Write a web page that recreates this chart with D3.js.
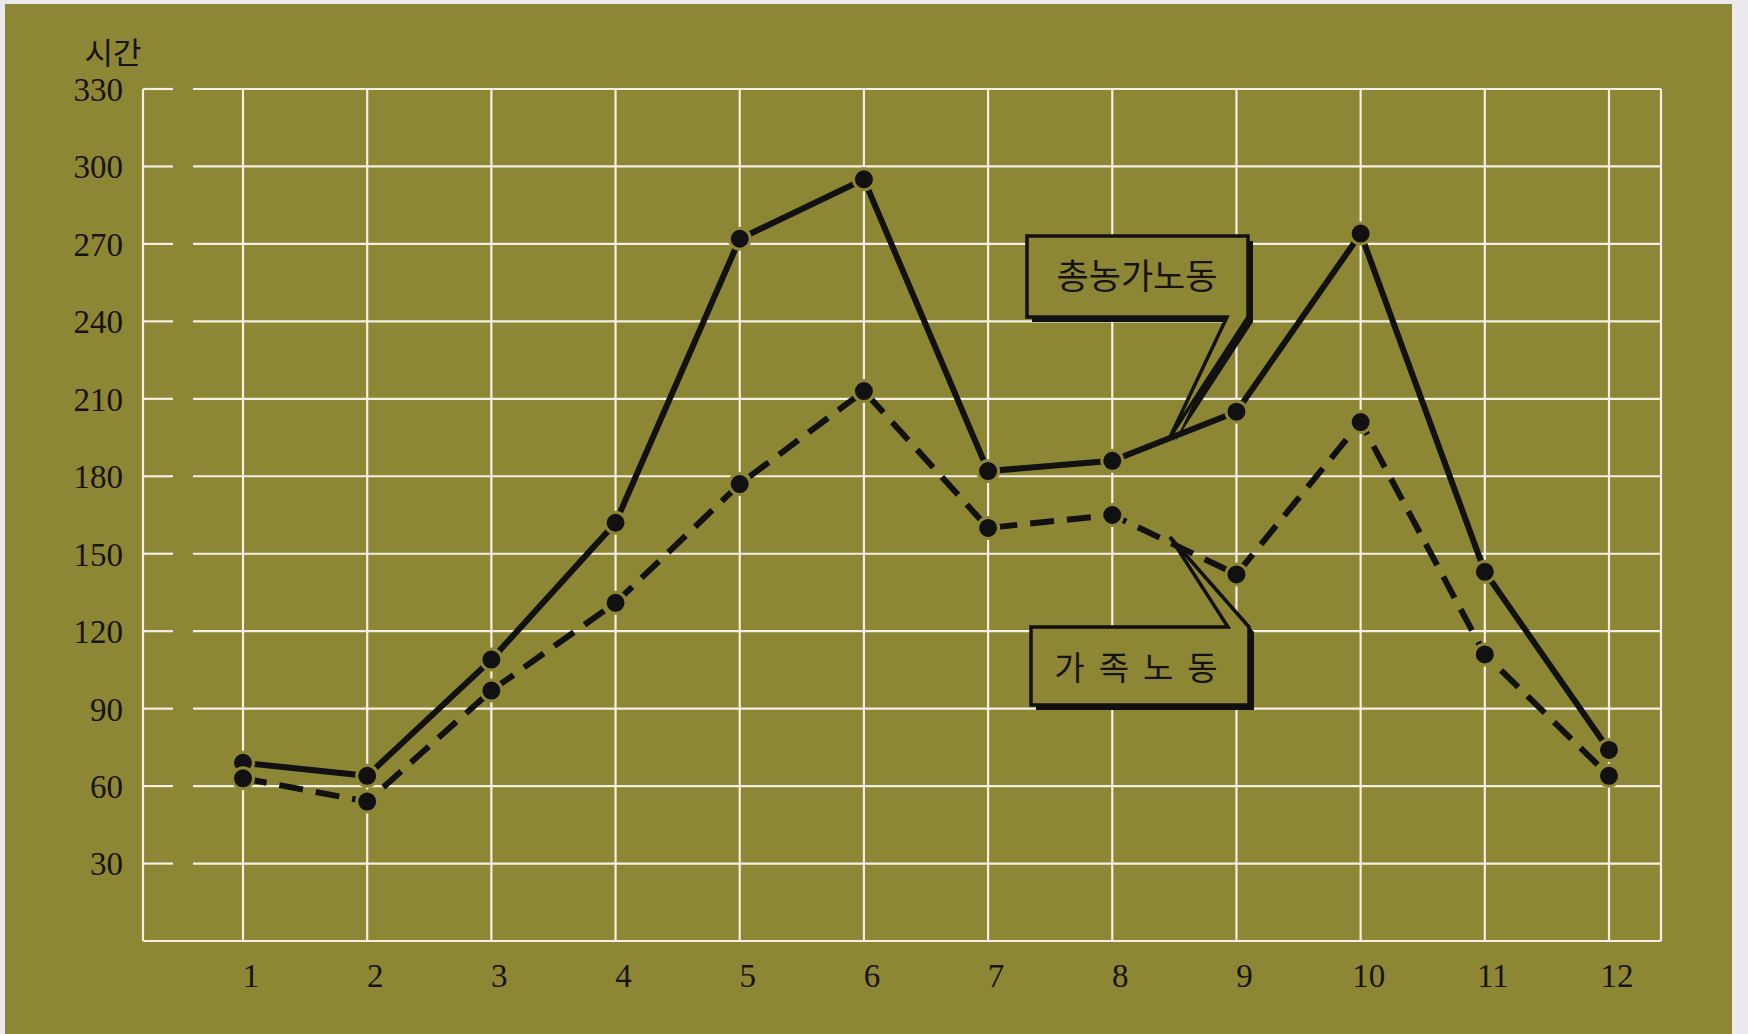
<!DOCTYPE html>
<html><head><meta charset="utf-8">
<script src="https://cdn.jsdelivr.net/npm/d3@7"></script>
<style>
html,body{margin:0;padding:0;background:#ece9ee;}
svg{display:block;}
</style></head>
<body>
<svg id="chart" width="1748" height="1034"></svg>
<script>
// ---- data ----
const months = [1,2,3,4,5,6,7,8,9,10,11,12];
const totalFarmLabor = [69, 64, 109, 162, 272, 295, 182, 186, 205, 274, 143, 74];
const familyLabor    = [63, 54, 97, 131, 177, 213, 160, 165, 142, 201, 111, 64];
const yTicks = [30,60,90,120,150,180,210,240,270,300,330];
const yTitle = "시간";
const seriesNames = ["총농가노동", "가족노동"];

// ---- layout ----
const svg = d3.select("#chart");
const olive = "#8d8634";
const gridCol = "#f3efe2";
const plot = {left:143, right:1661, top:89, bottom:941};

svg.append("rect").attr("x",5).attr("y",4).attr("width",1727).attr("height",1040).attr("fill",olive);

const x = d3.scaleLinear().domain([1,12]).range([243,1609]);
const y = d3.scaleLinear().domain([0,330]).range([plot.bottom, plot.top]);

const g = svg.append("g");
// horizontal gridlines (with small gap near left)
yTicks.forEach(t=>{
  g.append("line").attr("x1",plot.left).attr("x2",173).attr("y1",y(t)).attr("y2",y(t))
   .attr("stroke",gridCol).attr("stroke-width",2.2);
  g.append("line").attr("x1",193).attr("x2",plot.right).attr("y1",y(t)).attr("y2",y(t))
   .attr("stroke",gridCol).attr("stroke-width",2.2);
});
// vertical gridlines
months.forEach(m=>{
  g.append("line").attr("x1",x(m)).attr("x2",x(m)).attr("y1",plot.top).attr("y2",plot.bottom)
   .attr("stroke",gridCol).attr("stroke-width",2.2);
});
// frame
g.append("line").attr("x1",plot.left).attr("x2",plot.left).attr("y1",plot.top).attr("y2",plot.bottom).attr("stroke",gridCol).attr("stroke-width",2.2);
g.append("line").attr("x1",plot.right).attr("x2",plot.right).attr("y1",plot.top).attr("y2",plot.bottom).attr("stroke",gridCol).attr("stroke-width",2.2);
g.append("line").attr("x1",plot.left).attr("x2",plot.right).attr("y1",plot.bottom).attr("y2",plot.bottom).attr("stroke",gridCol).attr("stroke-width",2.2);

// axis labels
const numFont = "'Liberation Serif', 'DejaVu Serif', serif";
svg.append("g").selectAll("text").data(yTicks).join("text")
  .attr("x",123).attr("y",d=>y(d)).attr("dy","0.36em")
  .attr("text-anchor","end").attr("font-family",numFont).attr("font-size",33)
  .attr("fill","#161410").text(d=>d);
svg.append("g").selectAll("text").data(months).join("text")
  .attr("x",d=>x(d)+8).attr("y",987)
  .attr("text-anchor","middle").attr("font-family",numFont).attr("font-size",33)
  .attr("fill","#161410").text(d=>d);
svg.append("text").attr("x",113).attr("y",64).attr("text-anchor","middle")
  .attr("font-family","'Noto Sans CJK KR', sans-serif").attr("font-size",31)
  .attr("fill","#161410").text(yTitle);

// ---- series ----
const line = d3.line().x((d,i)=>x(months[i])).y(d=>y(d));
svg.append("path").datum(familyLabor).attr("d",line).attr("fill","none")
  .attr("stroke","#111").attr("stroke-width",6).attr("stroke-dasharray","24,13");
svg.append("path").datum(totalFarmLabor).attr("d",line).attr("fill","none")
  .attr("stroke","#111").attr("stroke-width",6);

[totalFarmLabor, familyLabor].forEach(s=>{
  svg.append("g").selectAll("circle").data(s).join("circle")
    .attr("cx",(d,i)=>x(months[i])).attr("cy",d=>y(d)).attr("r",10.5)
    .attr("fill","#111").attr("stroke",olive).attr("stroke-width",3);
});

// ---- callout labels ----
const kFont = "'Noto Sans CJK KR', sans-serif";
function callout(pathD, tx, ty, label, fs, ls){
  const c = svg.append("g");
  c.append("path").attr("d",pathD).attr("transform","translate(5,5)").attr("fill","#111");
  c.append("path").attr("d",pathD).attr("fill",olive).attr("stroke","#111").attr("stroke-width",3.5).attr("stroke-linejoin","miter");
  c.append("text").attr("x",tx).attr("y",ty).attr("dy","0.36em").attr("text-anchor","middle")
    .attr("font-family",kFont).attr("font-size",fs).attr("letter-spacing",ls).attr("fill","#161410").text(label);
}
callout("M1027,236 H1248 V317 L1170,437 L1227,317 H1027 Z", 1137, 276, seriesNames[0], 35, 0);
callout("M1031,627 H1228 L1170,537 L1249,627 V705 H1031 Z", 1143, 668, seriesNames[1], 33, 14);
</script>
</body></html>
